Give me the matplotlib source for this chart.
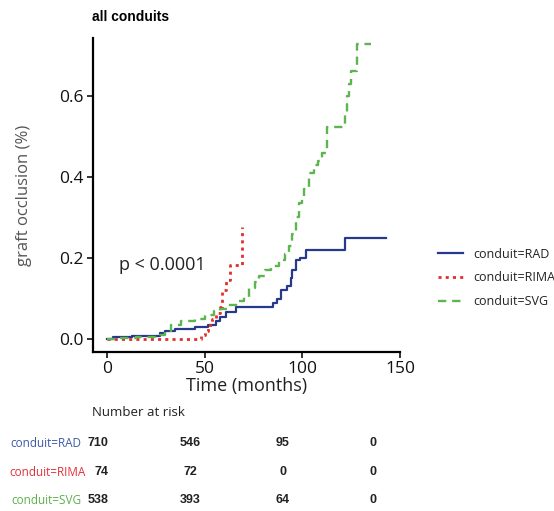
import numpy as np
import matplotlib
matplotlib.use("Agg")
import matplotlib.pyplot as plt

# cumulative graft occlusion, step curves per conduit type
rad_t = [0, 3, 13, 27, 30, 35, 45, 52, 56, 58, 61, 66, 85, 87, 89, 92, 94, 95, 97, 99, 102, 122, 143]
rad_v = [0, 0.005, 0.008, 0.015, 0.02, 0.025, 0.03, 0.035, 0.045, 0.055, 0.067, 0.08,
         0.09, 0.1, 0.12, 0.13, 0.15, 0.17, 0.195, 0.2, 0.22, 0.25, 0.25]

rima_t = [0, 48, 50, 52, 54, 56, 58, 59, 61, 63, 69]
rima_v = [0, 0.01, 0.02, 0.035, 0.05, 0.065, 0.08, 0.12, 0.145, 0.183, 0.277]

svg_t = [0, 5, 15, 27, 30, 33, 38, 45, 50, 55, 58, 62, 66, 70, 73, 76, 78, 81, 84, 88,
         91, 93, 95, 97, 98.5, 100, 101, 103.6, 106, 108, 110, 112.8, 122, 123, 124, 125, 128, 135]
svg_v = [0, 0.003, 0.005, 0.01, 0.02, 0.035, 0.045, 0.05, 0.06, 0.07, 0.075, 0.085, 0.095,
         0.105, 0.125, 0.14, 0.155, 0.17, 0.18, 0.195, 0.21, 0.23, 0.26, 0.3, 0.335, 0.35,
         0.37, 0.41, 0.43, 0.44, 0.46, 0.523, 0.56, 0.6, 0.63, 0.66, 0.728, 0.728]

groups = ["conduit=RAD", "conduit=RIMA", "conduit=SVG"]
risk_rad = [710, 546, 95, 0]
risk_rima = [74, 72, 0, 0]
risk_svg = [538, 393, 64, 0]

BLUE, RED, GREEN = "#26398a", "#e0302c", "#5db54f"
LBL_COLS = ["#3d58a8", "#e03238", "#5cb04c"]

fig = plt.figure(figsize=(5.54, 5.11), dpi=100)
ax = fig.add_axes([0.168, 0.311, 0.554, 0.615])

ax.step(rad_t, rad_v, where="post", color=BLUE, lw=1.6, label=groups[0])
ax.step(rima_t, rima_v, where="post", color=RED, lw=2.0, ls=(0, (1.1, 1.5)), label=groups[1])
ax.step(svg_t, svg_v, where="post", color=GREEN, lw=1.7, ls=(0, (3.5, 2.5)), label=groups[2])

ax.set_xlim(-7, 150)
ax.set_ylim(-0.032, 0.743)
ax.set_xticks([0, 50, 100, 150])
ax.set_yticks([0.0, 0.2, 0.4, 0.6])
ax.set_yticklabels(["0.0", "0.2", "0.4", "0.6"])
for s in ["top", "right"]:
    ax.spines[s].set_visible(False)
for s in ["left", "bottom"]:
    ax.spines[s].set_linewidth(1.6)
ax.tick_params(length=4, width=1.2, labelsize=12.5, colors="#111111", pad=2.5)
for lab in ax.get_xticklabels() + ax.get_yticklabels():
    lab.set_family("Open Sans")

ax.set_xlabel("Time (months)", fontsize=13, family="Open Sans", color="#222222", labelpad=0)
ax.set_ylabel("graft occlusion (%)", fontsize=12, family="Open Sans", color="#555555", labelpad=20)

ax.text(6.5, 0.183, "p < 0.0001", fontsize=13, family="Open Sans", color="#222222", va="center")

fig.text(0.166, 0.966, "all conduits", fontsize=10, fontweight="bold",
         family="Liberation Sans", va="center")

fig.legend(loc="center left", bbox_to_anchor=(0.77, 0.456), frameon=False,
           prop={"family": "Open Sans", "size": 9}, handlelength=2.0, labelspacing=0.85,
           labelcolor="#222222")

# number-at-risk table under the axes
fig.text(0.166, 1 - 412 / 511, "Number at risk", fontsize=9.5, family="Open Sans",
         color="#222222", va="center")
row_y = [443, 472, 500]
col_x = [98, 190, 283, 373]
rows = [risk_rad, risk_rima, risk_svg]
label_x = [46, 48, 46]
for i in range(3):
    y = 1 - row_y[i] / 511
    fig.text(label_x[i] / 554, y, groups[i], fontsize=8.5, family="Open Sans",
             color=LBL_COLS[i], va="center", ha="center")
    for j in range(4):
        fig.text(col_x[j] / 554 + (0.006 if i == 1 and j == 0 else 0), y, str(rows[i][j]),
                 fontsize=9, fontweight="bold", family="Liberation Sans",
                 color="#222222", va="center", ha="center")

fig.savefig("out.png", dpi=100)
